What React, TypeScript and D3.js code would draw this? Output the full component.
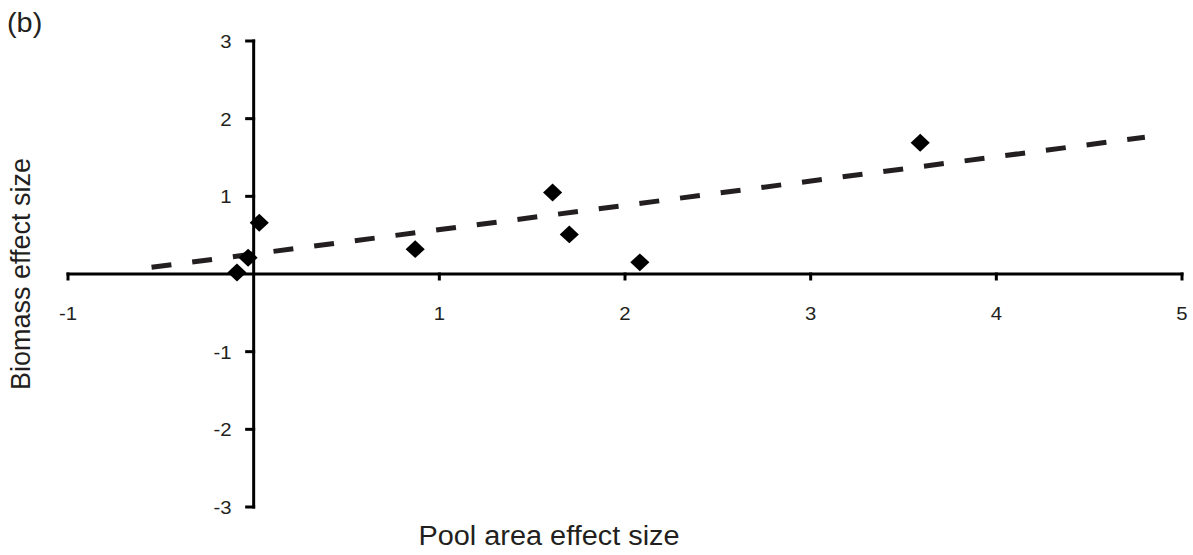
import React, { useEffect, useRef } from 'react';
import * as d3 from 'd3';

// values
const poolArea = [-0.09, -0.03, 0.03, 0.87, 1.61, 1.70, 2.08, 3.59];
const biomass = [0.02, 0.21, 0.66, 0.32, 1.05, 0.51, 0.15, 1.69];
const xTicks = [-1, 0, 1, 2, 3, 4, 5];
const yTicks = [-3, -2, -1, 0, 1, 2, 3];
const trendRange = [-0.55, 4.8];
const trendSlope = 0.313;
const trendIntercept = 0.258;

const W = 1193;
const H = 555;
const FONT = 'Liberation Sans, Arial, sans-serif';

function App() {
  const ref = useRef<SVGSVGElement>(null);

  useEffect(() => {
    const svg = d3.select(ref.current);
    svg.selectAll('*').remove();

    const x = d3.scaleLinear().domain([-1, 5]).range([68, 1182]);
    const y = d3.scaleLinear().domain([-3, 3]).range([507, 41]);
    const x0 = x(0);
    const y0 = y(0);

    // trend line
    const line = d3.line<number>()
      .x(d => x(d))
      .y(d => y(trendIntercept + trendSlope * d));
    svg.append('path')
      .attr('d', line(trendRange))
      .attr('fill', 'none')
      .attr('stroke', '#231f20')
      .attr('stroke-width', 5)
      .attr('stroke-dasharray', '20 21');

    // axes
    const axes = svg.append('g').attr('stroke', '#000').attr('stroke-width', 3).attr('stroke-linecap', 'square');
    axes.append('line').attr('x1', x(-1)).attr('x2', x(5)).attr('y1', y0).attr('y2', y0);
    axes.append('line').attr('x1', x0).attr('x2', x0).attr('y1', y(3)).attr('y2', y(-3));
    xTicks.filter(t => t !== 0).forEach(t => {
      axes.append('line').attr('x1', x(t)).attr('x2', x(t)).attr('y1', y0).attr('y2', y0 + 5);
    });
    yTicks.filter(t => t !== 0).forEach(t => {
      axes.append('line').attr('x1', x0 - 7).attr('x2', x0).attr('y1', y(t)).attr('y2', y(t));
    });

    // tick labels
    const lab = svg.append('g').attr('font-family', FONT).attr('font-size', 19).attr('fill', '#231f20');
    xTicks.filter(t => t !== 0).forEach(t => {
      lab.append('text')
        .attr('transform', `translate(${x(t)},${y0 + 46}) scale(1.07,1)`)
        .attr('text-anchor', 'middle')
        .text(String(t));
    });
    yTicks.filter(t => t !== 0).forEach(t => {
      lab.append('text')
        .attr('transform', `translate(${x0 - 22},${y(t) + 7}) scale(1.07,1)`)
        .attr('text-anchor', 'end')
        .text(String(t));
    });

    // points
    const diamond = d3.symbol().type(d3.symbolSquare).size(160);
    svg.append('g').selectAll('path')
      .data(poolArea.map((v, i) => [v, biomass[i]]))
      .enter().append('path')
      .attr('d', diamond())
      .attr('fill', '#000')
      .attr('transform', d => `translate(${x(d[0])},${y(d[1])}) scale(1.07,1) rotate(45)`);

    // titles
    svg.append('text')
      .attr('transform', `translate(549,545) scale(1.07,1)`)
      .attr('text-anchor', 'middle')
      .attr('font-family', FONT).attr('font-size', 27).attr('fill', '#231f20')
      .text('Pool area effect size');
    svg.append('text')
      .attr('transform', `translate(30,274) rotate(-90)`)
      .attr('text-anchor', 'middle')
      .attr('font-family', FONT).attr('font-size', 27).attr('fill', '#231f20')
      .text('Biomass effect size');
    svg.append('text')
      .attr('transform', `translate(7,32) scale(1.07,1)`)
      .attr('font-family', FONT).attr('font-size', 27).attr('fill', '#231f20')
      .text('(b)');
  }, []);

  return (
    <svg ref={ref} width={W} height={H}
      style={{ position: 'absolute', left: 0, top: 0, background: '#fff' }} />
  );
}

export default App;
